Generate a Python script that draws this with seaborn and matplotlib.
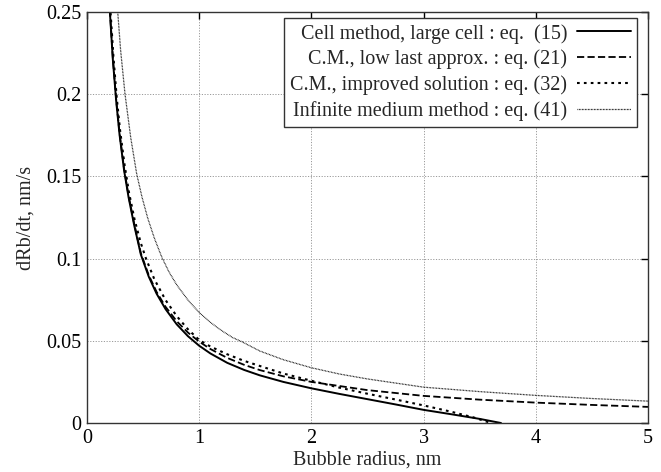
import numpy as np
import pandas as pd
import seaborn as sns
import matplotlib.pyplot as plt

# values
xCell = [0.18, 0.205, 0.23, 0.26, 0.29, 0.33, 0.37, 0.42, 0.48, 0.55, 0.62, 0.70, 0.80, 0.90,
         1.0, 1.1, 1.25, 1.4, 1.54, 1.75, 2.0, 2.25, 2.5, 2.75, 3.0, 3.25, 3.5, 3.69]
yCell = [0.283, 0.249, 0.2215, 0.196, 0.1755, 0.154, 0.1375, 0.1205, 0.1025, 0.0891, 0.0787,
         0.0693, 0.0600, 0.0528, 0.0470, 0.0423, 0.0366, 0.0323, 0.0290, 0.0250, 0.0211,
         0.0177, 0.0145, 0.0113, 0.0080, 0.0053, 0.0025, 0.0]

xLow = [0.18, 0.205, 0.23, 0.26, 0.29, 0.33, 0.37, 0.42, 0.48, 0.55, 0.62, 0.70, 0.80, 0.90,
        1.0, 1.1, 1.25, 1.4, 1.54, 1.75, 2.0, 2.5, 3.0, 3.5, 4.0, 4.5, 5.0]
yLow = [0.284, 0.250, 0.2225, 0.197, 0.1765, 0.155, 0.1385, 0.1215, 0.1033, 0.0900, 0.0798,
        0.0707, 0.0619, 0.0550, 0.0495, 0.0450, 0.0396, 0.0354, 0.0322, 0.0284, 0.0250,
        0.0200, 0.0165, 0.0142, 0.0124, 0.0110, 0.0098]

xImproved = [0.185, 0.21, 0.235, 0.265, 0.295, 0.335, 0.375, 0.425, 0.48, 0.526, 0.60, 0.70,
             0.80, 0.90, 1.0, 1.1, 1.25, 1.4, 1.54, 1.75, 2.0, 2.25, 2.5, 2.75, 3.0, 3.25,
             3.45, 3.6]
yImproved = [0.284, 0.250, 0.2235, 0.198, 0.178, 0.157, 0.140, 0.1235, 0.1094, 0.100, 0.0875,
             0.0748, 0.0650, 0.0570, 0.0505, 0.0465, 0.0418, 0.0378, 0.0347, 0.0301, 0.0257,
             0.0215, 0.0178, 0.0143, 0.0107, 0.0068, 0.0033, 0.0]

xInfinite = [0.25, 0.274, 0.30, 0.339, 0.39, 0.443, 0.49, 0.541, 0.60, 0.666, 0.73, 0.80, 0.90,
             1.0, 1.1, 1.2, 1.3, 1.379, 1.54, 1.75, 2.0, 2.25, 2.5, 3.0, 3.5, 4.0, 4.5, 5.0]
yInfinite = [0.270, 0.250, 0.2265, 0.200, 0.1735, 0.1515, 0.1375, 0.1247, 0.1125, 0.1010,
             0.0920, 0.0840, 0.0748, 0.0672, 0.0612, 0.0562, 0.0519, 0.0495, 0.0438, 0.0385,
             0.0336, 0.0298, 0.0268, 0.0218, 0.0191, 0.0168, 0.0149, 0.0133]

labels = ["Cell method, large cell : eq.  (15)",
          "C.M., low last approx. : eq. (21)",
          "C.M., improved solution : eq. (32)",
          "Infinite medium method : eq. (41)"]

xTicks = [0, 1, 2, 3, 4, 5]
yTicks = [0, 0.05, 0.1, 0.15, 0.2, 0.25]
yTickLabels = ["0", "0.05", "0.1", "0.15", "0.2", "0.25"]

sns.set_style("white")
plt.rcParams['font.family'] = ['Liberation Serif', 'DejaVu Serif']
plt.rcParams['font.size'] = 14.5

fig = plt.figure(figsize=(6.61, 4.72), dpi=100)
ax = fig.add_axes([0.1316, 0.1038, 0.8487, 0.8708])

series = [(xCell, yCell, '-', 1.4),
          (xLow, yLow, (0, (4, 1.8)), 1.3),
          (xImproved, yImproved, (0, (1.3, 2.0)), 1.5),
          (xInfinite, yInfinite, (0, (0.6, 0.6)), 0.9)]
for (xs, ys, ls, lw), lab in zip(series, labels):
    df = pd.DataFrame({"x": xs, "y": ys})
    sns.lineplot(data=df, x="x", y="y", ax=ax, color="black", linestyle=ls,
                 linewidth=lw, label=lab, sort=False, estimator=None)

ax.set_xlim(0, 5)
ax.set_ylim(0, 0.25)
ax.set_xticks(xTicks)
ax.set_xticklabels([str(t) for t in xTicks])
ax.set_yticks(yTicks)
ax.set_yticklabels(yTickLabels)
ax.tick_params(direction='in', length=5, width=1, top=True, right=True,
               labelsize=14.5, pad=4, colors='black')
ax.grid(True, color='#999999', linestyle=(0, (1.2, 1.6)), linewidth=0.7)
for s in ax.spines.values():
    s.set_color('#333333')
    s.set_linewidth(1.0)

ax.set_xlabel("Bubble radius, nm", fontsize=14.5, labelpad=2)
ax.set_ylabel("dRb/dt, nm/s", fontsize=14.5, labelpad=8)

leg = ax.legend(loc='upper right', bbox_to_anchor=(0.980, 0.986), borderaxespad=0,
                markerfirst=False, frameon=True, fancybox=False,
                edgecolor='#333333', framealpha=1, fontsize=14.5, handlelength=2.65,
                borderpad=0.3, labelspacing=0.3, handletextpad=0.5)
leg.get_frame().set_linewidth(1.0)

fig.savefig("out.png", dpi=100)
